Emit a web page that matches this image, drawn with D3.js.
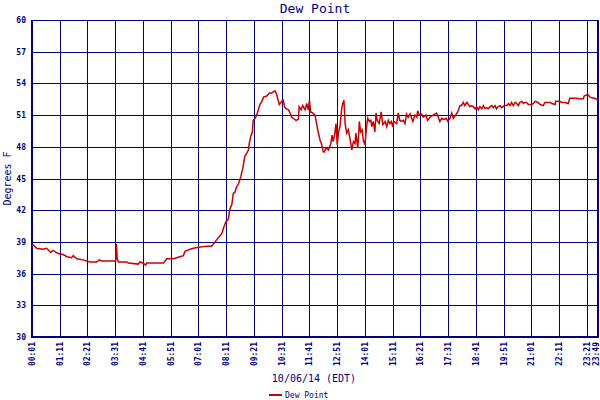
<!DOCTYPE html>
<html>
<head>
<meta charset="utf-8">
<script src="https://cdn.jsdelivr.net/npm/d3@7"></script>
<style>
  html, body { margin: 0; padding: 0; background: #fff; }
  svg { display: block; }
  text { font-family: "DejaVu Sans Mono", monospace; fill: #000080; }
</style>
</head>
<body>
<svg id="chart" width="600" height="400"></svg>
<script>
// ---- data (minutes after midnight, dew point °F) ----
const minutes = [1,4,13,29,38,48,54,67,80,89,101,105,114,130,147,164,171,177,212,214,216,219,240,244,269,273,281,288,290,299,332,337,341,358,366,383,387,400,408,421,442,454,463,471,480,484,490,496,501,505,509,513,517,522,528,533,538,543,547,549,553,557,559,564,568,572,576,581,585,593,600,606,610,614,618,622,625,631,635,638,642,648,652,656,660,667,673,675,680,684,690,694,698,701,704,709,715,719,723,728,732,736,738,743,749,755,758,761,765,768,771,774,778,782,785,788,791,795,799,803,808,812,816,818,823,827,830,834,837,841,845,848,852,856,858,862,866,869,872,877,882,886,892,896,900,904,908,911,914,921,925,929,934,938,942,946,950,955,962,967,972,974,978,984,988,995,999,1005,1013,1022,1026,1030,1035,1040,1046,1050,1056,1060,1064,1068,1075,1081,1085,1089,1093,1098,1102,1106,1110,1114,1119,1123,1127,1131,1136,1140,1144,1148,1152,1157,1161,1165,1169,1173,1177,1182,1186,1193,1199,1203,1207,1211,1215,1220,1224,1228,1232,1237,1241,1245,1249,1253,1262,1266,1270,1278,1283,1291,1295,1308,1312,1321,1322,1333,1337,1346,1354,1358,1375,1379,1392,1394,1400,1403,1409,1417,1421,1429];
const dewPoint = [38.6,38.7,38.4,38.3,38.4,38.0,38.2,37.9,37.8,37.6,37.5,37.7,37.4,37.3,37.1,37.1,37.3,37.2,37.2,38.8,37.4,37.1,37.1,37.0,36.9,37.1,37.0,36.8,37.0,37.0,37.0,37.2,37.4,37.4,37.5,37.7,38.1,38.3,38.4,38.5,38.6,38.6,39.0,39.4,39.8,40.3,40.9,41.1,42.2,42.5,43.6,43.7,44.2,44.5,45.2,46.0,47.1,47.4,47.7,48.3,49.0,49.4,50.5,50.7,51.0,51.5,52.0,52.3,52.7,52.8,53.1,53.1,53.2,53.3,53.0,52.4,52.0,52.3,52.4,51.8,51.6,51.5,51.2,50.8,50.7,50.5,50.6,51.8,51.5,51.9,51.5,52.1,51.5,52.4,51.3,51.2,51.0,50.2,49.4,48.6,48.2,47.5,47.5,47.9,47.7,48.3,49.1,48.5,49.3,50.2,48.2,49.3,49.9,51.5,52.1,52.4,50.2,49.3,49.6,48.8,47.7,48.5,48.3,49.3,47.9,50.4,49.4,49.6,48.6,48.2,49.9,50.7,50.4,50.5,49.9,50.4,49.4,51.2,50.5,50.2,51.3,50.1,50.4,49.9,50.5,50.2,50.4,49.9,50.4,50.2,51.2,50.5,50.4,50.5,50.2,51.1,50.8,51.1,50.4,51.0,50.8,51.4,51.0,51.1,50.8,51.0,50.5,50.8,51.0,51.2,50.8,50.4,50.7,50.6,50.7,50.4,50.7,51.2,50.7,50.9,51.3,51.9,51.9,52.2,51.9,52.2,52.0,51.8,51.9,51.8,51.6,51.8,51.5,51.8,51.6,51.9,51.6,51.7,51.6,51.8,51.9,51.7,51.9,51.6,51.8,51.9,51.7,51.9,51.9,52.1,51.9,52.2,51.9,52.2,52.1,51.9,52.2,52.3,52.1,52.2,52.2,52.0,52.0,52.1,52.3,52.2,52.0,51.9,52.2,52.2,52.1,52.0,52.3,52.3,52.2,52.2,52.1,52.6,52.6,52.55,52.55,52.8,52.9,52.95,52.7,52.6,52.6,52.4];
const yTicks = [30,33,36,39,42,45,48,51,54,57,60];
const xTickMinutes = [1,71,141,211,281,351,421,491,561,631,701,771,841,911,981,1051,1121,1191,1261,1331,1401,1429];
const xTickLabels = ["00:01","01:11","02:21","03:31","04:41","05:51","07:01","08:11","09:21","10:31","11:41","12:51","14:01","15:11","16:21","17:31","18:41","19:51","21:01","22:11","23:21","23:49"];
const title = "Dew Point";
const yLabel = "Degrees F";
const xLabel = "10/06/14 (EDT)";
const seriesName = "Dew Point";

// ---- drawing ----
const navy = "#000080", red = "#cc0000";
const L = 32, R = 598, T = 20, B = 337;
const svg = d3.select("#chart");
const x = d3.scaleLinear().domain([1, 1429]).range([L, R]);
const y = d3.scaleLinear().domain([30, 60]).range([B, T]);
const px = v => Math.round(v) + 0.5;

const grid = svg.append("g").attr("shape-rendering", "crispEdges");
grid.selectAll("line.h").data(yTicks).join("line")
  .attr("x1", L).attr("x2", R)
  .attr("y1", d => px(y(d))).attr("y2", d => px(y(d)))
  .attr("stroke", navy).attr("stroke-width", 1);
grid.selectAll("line.v").data(xTickMinutes).join("line")
  .attr("y1", T).attr("y2", B)
  .attr("x1", d => px(x(d))).attr("x2", d => px(x(d)))
  .attr("stroke", navy).attr("stroke-width", 1);
// axis frame
grid.append("line").attr("x1", L).attr("x2", L).attr("y1", T).attr("y2", B + 1)
  .attr("stroke", navy).attr("stroke-width", 2);
grid.append("line").attr("x1", L).attr("x2", R + 1).attr("y1", B).attr("y2", B)
  .attr("stroke", navy).attr("stroke-width", 2);
grid.append("line").attr("x1", R).attr("x2", R).attr("y1", T).attr("y2", B + 1)
  .attr("stroke", navy).attr("stroke-width", 2);

// y tick labels
svg.append("g").selectAll("text").data(yTicks).join("text")
  .attr("x", 26).attr("y", d => y(d) + 3)
  .attr("text-anchor", "end")
  .style("font-size", "8px").style("font-weight", "bold")
  .text(d => d);

// x tick labels (rotated)
svg.append("g").selectAll("text").data(xTickMinutes).join("text")
  .attr("transform", d => `translate(${Math.min(x(d) + 3, 599)},342) rotate(-90)`)
  .attr("text-anchor", "end")
  .style("font-size", "8px").style("font-weight", "bold")
  .text((d, i) => xTickLabels[i]);

// line
const pts = minutes.map((m, i) => [m, dewPoint[i]]);
svg.append("path").datum(pts)
  .attr("fill", "none").attr("stroke", red).attr("stroke-width", 1.5)
  .attr("stroke-linejoin", "miter")
  .attr("d", d3.line().x(d => x(d[0])).y(d => y(d[1])));

// titles
svg.append("text").attr("x", (L + R) / 2).attr("y", 13)
  .attr("text-anchor", "middle").style("font-size", "13px").text(title);
svg.append("text").attr("transform", `translate(11,${(T + B) / 2}) rotate(-90)`)
  .attr("text-anchor", "middle").style("font-size", "10px").text(yLabel);
svg.append("text").attr("x", 314).attr("y", 382)
  .attr("text-anchor", "middle").style("font-size", "10px").text(xLabel);

// legend
svg.append("line").attr("x1", 269).attr("x2", 282).attr("y1", 395).attr("y2", 395)
  .attr("stroke", red).attr("stroke-width", 2);
svg.append("text").attr("x", 285).attr("y", 398)
  .style("font-size", "8px").text(seriesName);
</script>
</body>
</html>
